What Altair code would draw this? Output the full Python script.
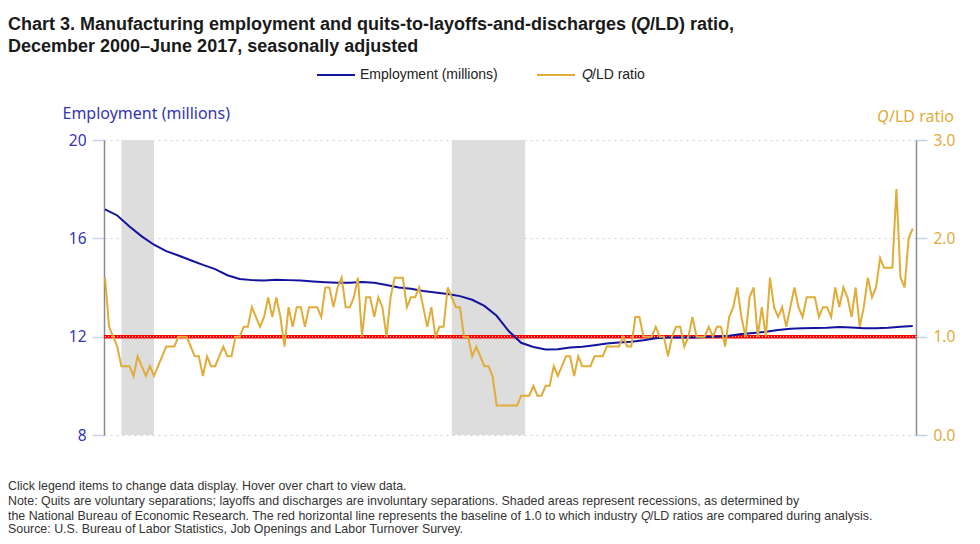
import altair as alt
import pandas as pd

# ---------------- data ----------------
START = "2000-12"  # first month of both series

# Q/LD ratio, monthly, Dec 2000 .. Jun 2017
qld = [
    1.6, 1.1, 1.0, 0.9, 0.7, 0.7, 0.7, 0.6, 0.8, 0.7,
    0.6, 0.7, 0.6, 0.7, 0.8, 0.9, 0.9, 0.9, 1.0, 1.0,
    1.0, 0.9, 0.8, 0.8, 0.6, 0.8, 0.7, 0.7, 0.8, 0.9,
    0.8, 0.8, 1.0, 1.0, 1.1, 1.1, 1.3, 1.2, 1.1, 1.2,
    1.4, 1.2, 1.4, 1.2, 0.9, 1.3, 1.1, 1.3, 1.3, 1.1,
    1.3, 1.3, 1.3, 1.2, 1.5, 1.5, 1.3, 1.5, 1.6, 1.3,
    1.3, 1.4, 1.6, 1.0, 1.4, 1.4, 1.2, 1.4, 1.3, 1.0,
    1.4, 1.6, 1.6, 1.6, 1.3, 1.4, 1.4, 1.5, 1.3, 1.1,
    1.3, 1.0, 1.1, 1.1, 1.5, 1.4, 1.3, 1.3, 1.0, 1.0,
    0.8, 0.9, 0.8, 0.7, 0.7, 0.6, 0.3, 0.3, 0.3, 0.3,
    0.3, 0.3, 0.4, 0.4, 0.4, 0.5, 0.4, 0.4, 0.5, 0.5,
    0.7, 0.6, 0.7, 0.8, 0.8, 0.6, 0.8, 0.7, 0.7, 0.7,
    0.8, 0.8, 0.8, 0.9, 0.9, 0.9, 0.9, 1.0, 0.9, 0.9,
    1.2, 1.2, 1.0, 1.0, 1.0, 1.1, 1.0, 1.0, 0.8, 1.0,
    1.1, 1.1, 0.9, 1.0, 1.2, 1.0, 1.0, 1.0, 1.1, 1.0,
    1.1, 1.1, 0.9, 1.2, 1.3, 1.5, 1.2, 1.0, 1.4, 1.5,
    1.0, 1.3, 1.0, 1.6, 1.3, 1.2, 1.3, 1.1, 1.3, 1.5,
    1.3, 1.2, 1.4, 1.4, 1.4, 1.2, 1.3, 1.3, 1.2, 1.5,
    1.3, 1.5, 1.4, 1.2, 1.5, 1.1, 1.3, 1.6, 1.4, 1.5,
    1.8, 1.7, 1.7, 1.7, 2.5, 1.6, 1.5, 2.0, 2.1,
]

# Manufacturing employment (millions), read every third month, Dec 2000 .. Jun 2017
emp = [
    17.18, 16.93, 16.48, 16.08, 15.74, 15.48, 15.30, 15.11, 14.92, 14.75,
    14.50, 14.35, 14.30, 14.28, 14.32, 14.30, 14.28, 14.24, 14.21, 14.19,
    14.19, 14.22, 14.19, 14.10, 14.00, 13.95, 13.86, 13.80, 13.74, 13.65,
    13.50, 13.25, 12.85, 12.22, 11.75, 11.58, 11.48, 11.49, 11.56, 11.59,
    11.65, 11.72, 11.76, 11.79, 11.85, 11.94, 11.97, 11.97, 11.97, 11.99,
    12.01, 12.04, 12.11, 12.15, 12.20, 12.27, 12.32, 12.34, 12.35, 12.36,
    12.39, 12.37, 12.34, 12.34, 12.36, 12.40, 12.43,
]
EMP_STEP = 3

recession_start = ["2001-04", "2008-01"]
recession_end = ["2001-12", "2009-07"]

x_tick_labels = ["Dec 2000", "Dec 2003", "Dec 2006", "Dec 2009", "Dec 2012", "Dec 2015"]
y_left_ticks = [8, 12, 16, 20]
y_right_ticks = [0, 1, 2, 3]
baseline_ratio = 1.0


def month_index(s):
    y, m = map(int, s.split("-"))
    y0, m0 = map(int, START.split("-"))
    return (y - y0) * 12 + (m - m0)


def month_of_label(lbl):
    mon, yr = lbl.split()
    return month_index(f"{yr}-12")


qld_df = pd.DataFrame({"m": list(range(len(qld))), "qld": qld})
emp_df = pd.DataFrame({"m": [i * EMP_STEP for i in range(len(emp))], "emp": emp})
rec_df = pd.DataFrame({
    "s": [month_index(s) for s in recession_start],
    "e": [month_index(e) for e in recession_end],
})
one = pd.DataFrame({"a": [0]})

# ---------------- styling ----------------
W, H = 812, 295
PAD_L, PAD_T = 96, 132
BLUE = "#13139f"
GOLD = "#e0ac3a"
AXBLUE = "#3535b2"
TICK = "#c6d6e8"
SANS = "Liberation Sans, Arial, sans-serif"
UI = "Noto Sans, Open Sans, sans-serif"

x_scale = alt.Scale(domain=[-0.25, 198.8], nice=False, zero=False)
xvals = [month_of_label(l) for l in x_tick_labels]

rects = alt.Chart(rec_df).mark_rect(color="#dddddd").encode(
    x=alt.X("s:Q", scale=x_scale, axis=None),
    x2="e:Q",
    y=alt.value(0),
    y2=alt.value(H),
)

red = alt.Chart(one).mark_rule(color="#ff0000", strokeWidth=3.5).encode(
    y=alt.Y(datum=baseline_ratio, scale=alt.Scale(domain=[0, 3], nice=False), axis=None)
)
dots = alt.Chart(one).mark_rule(color="#ffffff", strokeWidth=1, strokeDash=[1, 2], opacity=0.9).encode(
    y=alt.Y(datum=baseline_ratio, scale=alt.Scale(domain=[0, 3], nice=False), axis=None)
)

emp_line = alt.Chart(emp_df).mark_line(color=BLUE, strokeWidth=2).encode(
    x=alt.X("m:Q", scale=x_scale, axis=alt.Axis(
        values=xvals,
        labelExpr="'Dec ' + (2000 + datum.value / 12)",
        title=None, grid=False, domainColor="#8a8a8a", domainWidth=1.5,
        tickColor=TICK, tickSize=10, tickWidth=1.5,
        labelFont=UI, labelFontSize=12.5, labelColor="#222", labelPadding=4,
    )),
    y=alt.Y("emp:Q", scale=alt.Scale(domain=[8, 20], nice=False, zero=False), axis=alt.Axis(
        orient="left", values=y_left_ticks,
        title="Employment (millions)", titleAngle=0, titleAlign="left",
        titleBaseline="alphabetic", titleX=-42, titleY=-22,
        titleFont=UI, titleFontSize=16, titleFontWeight="normal", titleColor=AXBLUE,
        labelFont=UI, labelFontSize=15.5, labelColor=AXBLUE, labelPadding=6,
        domainColor="#8a8a8a", domainWidth=1.5, tickColor=TICK, tickSize=12, tickWidth=1.5,
        grid=True, gridDash=[2, 4], gridColor="#cfcfcf",
    )),
)

qld_line = alt.Chart(qld_df).mark_line(color=GOLD, strokeWidth=2).encode(
    x=alt.X("m:Q", scale=x_scale, axis=None),
    y=alt.Y("qld:Q", scale=alt.Scale(domain=[0, 3], nice=False), axis=alt.Axis(
        orient="right", values=y_right_ticks, format=".1f", title=None,
        labelFont=UI, labelFontSize=15.5, labelColor=GOLD, labelPadding=6,
        domainColor="#8a8a8a", domainWidth=1.5, tickColor=TICK, tickSize=11, tickWidth=1.5,
        grid=False,
    )),
)


def txt(text, px, py, size, color, font, weight="normal", style="normal", align="left", baseline="alphabetic"):
    return alt.Chart(one).mark_text(
        text=text, align=align, baseline=baseline, fontSize=size, font=font,
        fontWeight=weight, fontStyle=style, color=color,
    ).encode(x=alt.value(px - PAD_L - 8), y=alt.value(py - PAD_T - 8))


def seg(px1, px2, py, color):
    return alt.Chart(one).mark_rule(color=color, strokeWidth=2).encode(
        x=alt.value(px1 - PAD_L - 8), x2=alt.value(px2 - PAD_L - 8), y=alt.value(py - PAD_T - 8)
    )


TITLE_C = "#1a1a1a"
NOTE_C = "#333333"
NOTE_FS = 12.4
annotations = [
    txt("Chart 3. Manufacturing employment and quits-to-layoffs-and-discharges (", 8, 30, 18, TITLE_C, SANS, "bold"),
    txt("Q", 636, 30, 18, TITLE_C, SANS, "bold", "italic"),
    txt("/LD) ratio,", 650, 30, 18, TITLE_C, SANS, "bold"),
    txt("December 2000\u2013June 2017, seasonally adjusted", 8, 52, 18, TITLE_C, SANS, "bold"),
    # legend
    seg(317, 355, 75, BLUE),
    txt("Employment (millions)", 360, 75, 14, "#222", SANS, baseline="middle"),
    seg(537, 575, 75, GOLD),
    txt("Q", 582, 75, 14, "#222", SANS, style="italic", baseline="middle"),
    txt("/LD ratio", 592, 75, 14, "#222", SANS, baseline="middle"),
    # right axis title
    txt("Q", 877, 122, 16, GOLD, UI, style="italic"),
    txt("/LD ratio", 889, 122, 16, GOLD, UI),
    # notes
    txt("Click legend items to change data display. Hover over chart to view data.", 8, 490, NOTE_FS, NOTE_C, SANS),
    txt("Note: Quits are voluntary separations; layoffs and discharges are involuntary separations. Shaded areas represent recessions, as determined by", 8, 505, NOTE_FS, NOTE_C, SANS),
    txt("the National Bureau of Economic Research. The red horizontal line represents the baseline of 1.0 to which industry", 8, 520, NOTE_FS, NOTE_C, SANS),
    txt("Q", 641, 520, NOTE_FS, NOTE_C, SANS, style="italic"),
    txt("/LD ratios are compared during analysis.", 650, 520, NOTE_FS, NOTE_C, SANS),
    txt("Source: U.S. Bureau of Labor Statistics, Job Openings and Labor Turnover Survey.", 8, 533, NOTE_FS, NOTE_C, SANS),
]

chart = alt.layer(rects, red, dots, emp_line, qld_line, *annotations).resolve_scale(
    y="independent"
).properties(
    width=W, height=H,
    autosize=alt.AutoSizeParams(type="none"),
    padding={"left": PAD_L, "top": PAD_T, "right": 980 - 16 - PAD_L - W, "bottom": 544 - 16 - PAD_T - H},
).configure_view(stroke=None)

chart.save("out.html", embed_options={"renderer": "svg", "actions": False})
